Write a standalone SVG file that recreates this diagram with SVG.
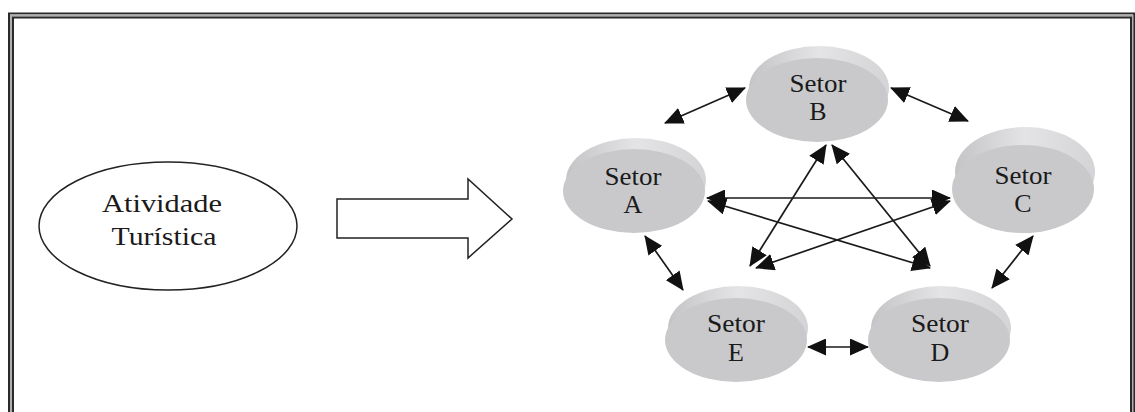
<svg xmlns="http://www.w3.org/2000/svg" width="1135" height="412" viewBox="0 0 1135 412">
<style>
text{font-family:'Liberation Serif','Times New Roman',Times,serif;font-size:26px;fill:#1a1a1a;text-anchor:middle}
.face{fill:#c9c9cc}
.rim{fill:url(#rimg)}
.con{stroke:#1a1a1a;stroke-width:1.7;fill:none;marker-start:url(#ah);marker-end:url(#ah)}
</style>
<defs>
<linearGradient id="rimg" x1="0" y1="0" x2="1" y2="0">
<stop offset="0" stop-color="#c4c4c7"/>
<stop offset="0.5" stop-color="#e4e4e6"/>
<stop offset="1" stop-color="#d4d4d6"/>
</linearGradient>
<marker id="ah" viewBox="0 0 19 17" refX="18" refY="8.5" markerWidth="19" markerHeight="17" markerUnits="userSpaceOnUse" orient="auto-start-reverse">
<path d="M0,0 L19,8.5 L0,17 z" fill="#111"/>
</marker>
</defs>
<rect width="1135" height="412" fill="#fff"/>
<g id="frame" fill="none">
<rect x="9" y="13.5" width="1125" height="500" stroke="#2a2a2a" stroke-width="2"/>
<rect x="11" y="15.5" width="1121.5" height="500" stroke="#b0b0b0" stroke-width="2"/>
<rect x="13" y="17.5" width="1118" height="500" stroke="#2a2a2a" stroke-width="2"/>
</g>
<g id="atividade">
<ellipse cx="168" cy="226" rx="129" ry="64" fill="#fff" stroke="#222" stroke-width="1.5"/>
<text x="162" y="212" textLength="120" lengthAdjust="spacingAndGlyphs">Atividade</text>
<text x="164" y="245" textLength="105" lengthAdjust="spacingAndGlyphs">Turística</text>
</g>
<g id="bigarrow">
<path d="M337,199 L468,199 L468,179 L512,219 L468,258 L468,238 L337,238 Z" fill="#fff" stroke="#222" stroke-width="1.5"/>
</g>
<g id="setorB">
<ellipse class="rim" cx="819" cy="88" rx="70" ry="42"/>
<ellipse class="face" cx="817" cy="100" rx="71" ry="42"/>
<text x="818" y="92" textLength="57" lengthAdjust="spacingAndGlyphs">Setor</text>
<text x="818" y="120">B</text>
</g>
<g id="setorA">
<ellipse class="rim" cx="636" cy="180" rx="70" ry="42"/>
<ellipse class="face" cx="634" cy="191" rx="71" ry="42"/>
<text x="633" y="185" textLength="57" lengthAdjust="spacingAndGlyphs">Setor</text>
<text x="633" y="213">A</text>
</g>
<g id="setorC">
<ellipse class="rim" cx="1025" cy="172" rx="70" ry="45"/>
<ellipse class="face" cx="1023" cy="189" rx="71" ry="44"/>
<text x="1023" y="184" textLength="57" lengthAdjust="spacingAndGlyphs">Setor</text>
<text x="1023" y="212">C</text>
</g>
<g id="setorE">
<ellipse class="rim" cx="738" cy="328" rx="70" ry="42"/>
<ellipse class="face" cx="736" cy="340" rx="71" ry="42"/>
<text x="736" y="332" textLength="58" lengthAdjust="spacingAndGlyphs">Setor</text>
<text x="736" y="361">E</text>
</g>
<g id="setorD">
<ellipse class="rim" cx="941" cy="328" rx="70" ry="42"/>
<ellipse class="face" cx="939" cy="340" rx="71" ry="42"/>
<text x="940" y="332" textLength="58" lengthAdjust="spacingAndGlyphs">Setor</text>
<text x="940" y="361">D</text>
</g>
<g id="connectors">
<line class="con" x1="665" y1="123" x2="745" y2="88"/>
<line class="con" x1="891" y1="88" x2="968" y2="121"/>
<line class="con" x1="1033" y1="236" x2="992" y2="288"/>
<line class="con" x1="808" y1="347" x2="868" y2="347"/>
<line class="con" x1="645" y1="236" x2="683" y2="290"/>
<line class="con" x1="707" y1="198" x2="950" y2="198"/>
<line class="con" x1="708" y1="201" x2="930" y2="268"/>
<line class="con" x1="950" y1="201" x2="756" y2="268"/>
<line class="con" x1="826" y1="145" x2="750" y2="266"/>
<line class="con" x1="832" y1="145" x2="930" y2="266"/>
</g>
</svg>
